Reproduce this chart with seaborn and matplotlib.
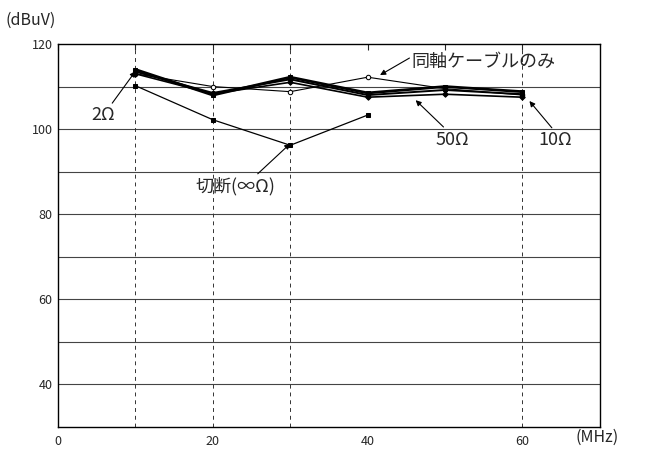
import matplotlib
matplotlib.use("Agg")
import matplotlib.pyplot as plt
import seaborn as sns

# 周波数 (MHz)
freq = [10, 20, 30, 40, 50, 60]
freq_cut = [10, 20, 30, 40]

# 各条件のレベル (dBuV)
coax_only = [113.0, 110.0, 108.8, 112.2, 109.5, 108.0]
r2 = [114.0, 108.0, 112.2, 108.5, 110.0, 108.8]
r10 = [113.5, 108.5, 111.7, 108.0, 109.2, 108.2]
r50 = [113.0, 108.3, 111.0, 107.5, 108.2, 107.5]
cut = [110.2, 102.2, 96.2, 103.3]

sns.set_style("white")
plt.rcParams['font.family'] = ['Noto Sans CJK JP', 'DejaVu Sans']

fig = plt.figure(figsize=(6.45, 4.49), dpi=100)
ax = fig.add_axes([0.09, 0.049, 0.84, 0.853])

# 格子線
for yv in range(40, 120, 10):
    ax.axhline(yv, color="#444444", lw=0.8, zorder=0)
for xv in [10, 20, 30, 60]:
    ax.axvline(xv, color="#333333", lw=0.7, ls=(0, (4, 4)), zorder=0)

sns.lineplot(x=freq, y=coax_only, ax=ax, color="k", lw=0.8, marker="o",
             markersize=3.2, markerfacecolor="white", markeredgecolor="k")
sns.lineplot(x=freq, y=r50, ax=ax, color="k", lw=1.2, marker="D",
             markersize=2.8, markeredgecolor="k")
sns.lineplot(x=freq, y=r10, ax=ax, color="k", lw=1.4, marker="o",
             markersize=3.0, markeredgecolor="k")
sns.lineplot(x=freq, y=r2, ax=ax, color="k", lw=2.0, marker="s",
             markersize=3.2, markeredgecolor="k")
sns.lineplot(x=freq_cut, y=cut, ax=ax, color="k", lw=0.9, marker="s",
             markersize=3.4, markeredgecolor="k")

ax.set_xlim(0, 70)
ax.set_ylim(30, 120)
ax.set_xticks(range(0, 70, 10))
ax.set_xticklabels(["0", "", "20", "", "40", "", "60"])
ax.set_yticks(range(30, 130, 10))
ax.set_yticklabels(["", "40", "", "60", "", "80", "", "100", "", "120"])
ax.tick_params(axis="x", direction="in", top=True, length=4, labelsize=9, pad=6)
ax.tick_params(axis="y", length=0, labelsize=9, pad=4)
for s in ax.spines.values():
    s.set_color("k")
    s.set_linewidth(1.0)

fig.text(0.008, 0.955, "(dBuV)", fontsize=11.5, ha="left", va="center")
fig.text(0.893, 0.025, "(MHz)", fontsize=11.5, ha="left", va="center")

arrow = dict(arrowstyle="-|>", color="k", lw=0.8, mutation_scale=8, shrinkA=0, shrinkB=0)
ax.annotate("", xy=(10, 113.6), xytext=(7.0, 106.1), arrowprops=arrow)
ax.text(5.8, 103.3, "2Ω", fontsize=13, ha="center", va="center")

ax.annotate("", xy=(30, 96.6), xytext=(25.8, 89.5), arrowprops=arrow)
ax.text(22.9, 86.6, "切断(∞Ω)", fontsize=13, ha="center", va="center")

ax.annotate("", xy=(41.6, 112.7), xytext=(45.4, 116.7), arrowprops=arrow)
ax.text(45.6, 115.8, "同軸ケーブルのみ", fontsize=13, ha="left", va="center")

ax.annotate("", xy=(46.2, 106.8), xytext=(49.8, 100.5), arrowprops=arrow)
ax.text(50.9, 97.4, "50Ω", fontsize=13, ha="center", va="center")

ax.annotate("", xy=(60.9, 106.6), xytext=(63.8, 100.3), arrowprops=arrow)
ax.text(64.2, 97.4, "10Ω", fontsize=13, ha="center", va="center")

fig.savefig("out.png", dpi=100)
